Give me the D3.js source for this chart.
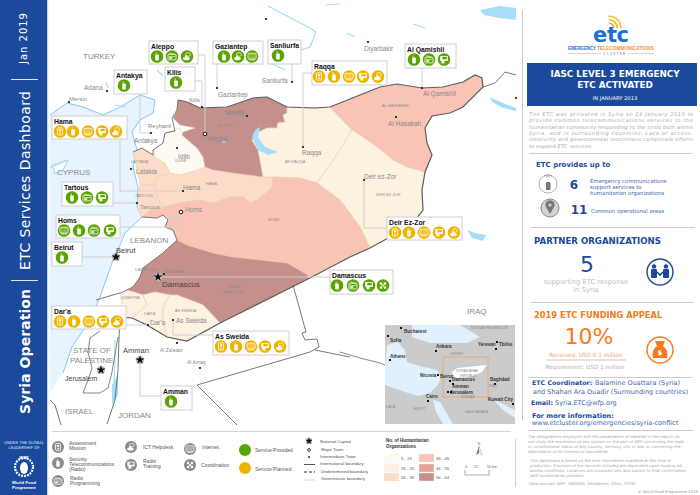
<!DOCTYPE html>
<html><head><meta charset="utf-8">
<script src="https://cdn.jsdelivr.net/npm/d3@7"></script>
<style>html,body{margin:0;padding:0;background:#fff}svg{display:block}text{font-family:"Liberation Sans",Arial,sans-serif}</style>
</head><body><svg id="c" width="700" height="495"></svg>
<script>
const officeNames=["Aleppo","Gaziantep","Sanliurfa","Kilis","Antakya","Raqqa","Al Qamishli","Deir Ez-Zor","Hama","Tartous","Homs","Beirut","Dar'a","As Sweida","Amman","Damascus"];
const officeServices=["RPH","RHI","R","R","R","ARITH","RPT","ARITH","ARITH","RPT","IRPT","R","ARITH","ARITH","R","RPTC"];
const officeStatus=["p","p","p","p","p","s","p","s","s","p","p","p","s","s","p","p"];
const orgBins=["5 - 15","16 - 25","26 - 35","36 - 45","46 - 55","56 - 64"];
const binColors=["#fefaf3","#fdf1df","#fcdcc8","#f9c4b5","#e8a09a","#c58f8c"];
const provides=[["6",["Emergency communications","support services to","humanitarian organizations"]],["11",["Common operational areas"]]];

const boxes=[[149,41,49,23],[213,41,50,23],[268,40,33,24],[165,67,30,24],[114,70,33,24],[312,61,75,24],[405,44,51,24],[387,217,75,23],[52,116,75,23],[62,182,51,24],[56,215,64,23],[52,242,30,24],[52,306,74,23],[213,331,76,24],[161,386,31,24],[330,270,63,24]];
const iconX=[[157,172,187],[224,238,252],[278],[176],[124],[319,334,349,363,378],[414,429,444],[395,409,424,439,454],[60,73,88,102,116],[72,87,102],[64,79,94,110],[62],[60,74,89,103,117],[221,236,251,265,280],[171],[337,353,369,383]];
const leaders=[[[198,55],[205,55],[205,134]],[[202,81],[202,107]],[[217,64],[217,88]],[[292,64],[292,82]],[[140,94],[140,133],[151,133]],[[120,139],[120,191],[183,191]],[[113,203],[137,203]],[[120,227],[181,227],[181,212]],[[82,257],[116,257]],[[312,73],[303,73],[303,147]],[[422,68],[422,88]],[[387,228],[364,228],[364,180]],[[126,325],[148,325]],[[213,335],[173,335],[173,320]],[[140,360],[140,396],[161,396]],[[158,277],[330,277]],[[195,81],[202,81]]];

const sea=[[50,115],[67,103],[83,107],[103,115],[120,107],[140,95],[155,100],[153,113],[140,120],[132,132],[137,150],[133,167],[138,187],[137,207],[142,217],[125,233],[118,250],[113,260],[106,280],[100,297],[90,320],[72,347],[63,373],[50,393]];
const gov={
 hama:[[155,157],[165,163],[170,173],[180,175],[197,170],[205,167],[233,173],[263,177],[273,177],[272,187],[267,192],[257,200],[250,203],[243,197],[230,197],[213,203],[200,200],[180,203],[163,207],[150,210],[140,207],[140,185],[155,185]],
 lat:[[133,152],[142,148],[153,155],[165,158],[165,163],[170,173],[157,177],[155,185],[140,185],[137,170]],
 tar:[[140,185],[155,185],[157,197],[163,207],[150,210],[142,217],[137,207]],
 idl:[[153,150],[163,143],[165,133],[180,128],[182,135],[190,142],[197,148],[203,157],[205,167],[197,170],[180,175],[170,173],[165,163],[155,157]],
 alp:[[178,100],[187,102],[200,108],[227,107],[253,98],[267,97],[287,107],[287,113],[283,115],[285,122],[278,123],[277,128],[267,128],[257,133],[252,140],[258,150],[260,160],[263,177],[233,173],[213,170],[205,167],[203,157],[197,148],[190,142],[182,135],[183,132],[195,128],[180,125],[173,118],[177,110]],
 rqa:[[287,107],[315,108],[330,107],[352,130],[340,150],[317,183],[300,178],[273,177],[263,177],[260,160],[258,150],[252,140],[257,133],[267,128],[277,128],[278,123],[285,122],[283,115],[287,113]],
 has:[[330,107],[360,95],[380,87],[397,84],[422,88],[443,87],[463,82],[475,75],[482,78],[483,87],[463,107],[450,113],[432,116],[425,128],[427,143],[432,155],[425,172],[407,167],[393,160],[377,147],[363,137],[352,130]],
 der:[[352,130],[363,137],[377,147],[393,160],[407,167],[425,172],[422,190],[423,210],[413,223],[390,237],[370,248],[360,227],[340,200],[317,183],[340,150]],
 hom:[[150,210],[163,207],[180,203],[200,200],[213,203],[230,197],[243,197],[250,203],[257,200],[267,192],[272,187],[273,177],[300,178],[317,183],[340,200],[360,227],[370,248],[350,257],[308,279],[308,275],[287,263],[233,257],[213,253],[187,245],[177,240],[173,230],[165,227],[168,220],[163,215],[157,218],[142,217]],
 rur:[[308,279],[308,275],[287,263],[233,257],[213,253],[187,245],[177,240],[163,253],[143,268],[140,277],[133,287],[127,290],[143,295],[155,292],[170,295],[177,295],[190,300],[203,305],[220,323]],
 qun:[[127,290],[143,295],[147,305],[132,318],[120,317],[122,300],[123,292]],
 dar:[[143,295],[155,292],[170,295],[163,307],[163,320],[167,337],[147,325],[132,318],[147,305]],
 swe:[[170,295],[177,295],[190,300],[203,305],[220,323],[187,341],[167,337],[163,320],[163,307]]};
const govFill={hama:2,lat:2,tar:2,idl:0,alp:5,rqa:1,has:3,der:1,hom:3,rur:5,qun:1,dar:1,swe:1};
const intlBorders=[
 [[178,100],[187,102],[200,108],[227,107],[253,98],[267,97],[287,107],[315,108],[330,107],[360,95],[380,87],[397,84],[422,88],[443,87],[463,82],[475,75],[482,78],[483,87],[463,107],[450,113],[432,116],[425,128],[427,143],[432,155],[425,172],[422,190],[423,210],[413,223],[390,237],[370,248],[350,257],[308,279],[220,323],[187,341],[167,337],[147,325],[132,318],[120,317]],
 [[483,87],[495,83],[505,72],[516,75]],
 [[293,285],[306,332],[302,333],[305,340],[317,339],[319,347],[310,352],[197,385],[237,425]],
 [[315,350],[350,357]],
 [[142,217],[157,218],[163,215],[168,220],[165,227],[173,230],[177,240],[163,253],[143,268],[140,277],[133,287],[127,290],[123,292]],
 [[123,292],[96,300]],
 [[120,317],[119,338],[118,370],[115,400],[107,424]],
 [[50,400],[55,405],[61,425]],
 [[133,152],[142,148],[153,155],[153,150],[163,143],[165,133],[175,131],[172,118],[177,110],[178,100]]];
const westBank=[[[100,331],[90,338],[88,352],[92,368],[88,380],[83,393],[100,393],[108,388],[112,372],[118,337]]];
const rivers=[[[268,6],[285,15],[310,28],[316,32],[310,47],[295,52]],[[270,63],[285,70]],[[347,33],[355,37]],[[413,24],[425,28]],[[106,82],[108,88]],[[157,70],[163,76]],[[50,168],[68,160]],[[326,5],[340,4]],[[115,105],[126,107]],[[115,340],[114,400]]];
const lakes=[[[252,137],[255,130],[260,127],[258,137],[265,147],[278,152],[268,155],[258,150]],[[480,10],[500,6],[516,8],[516,20],[500,18],[484,15]],[[490,97],[505,104],[516,108],[516,111],[503,108],[492,102]],[[467,230],[475,233],[486,235],[483,241],[472,238]],[[112,385],[118,375],[118,395],[112,405]],[[223,140],[226,142],[222,143]],[[172,217],[176,216],[173,220]]];
const cyprus=[[55,174],[52,165],[60,163],[68,160],[63,170]];

const labels=[["TURKEY",83,59,8],["Adana",84,90,6.5],["Mersin",69,101,6],["Reyhanli",148,128,6],["Antakya",134,143,6.5],["Kilis",189,102,6],["Gaziantep",218,97,6.5],["Sanliurfa",262,83,6.5],["Manbij",225,115,6.5],["Aleppo",208,141,6.5],["Idlib",178,159,6.5],["Latakia",136,174,6.5],["Hama",183,190,6.5],["Tartous",140,209,6],["Homs",185,212,6.5],["CYPRUS",57,175,8],["LEBANON",130,243,8],["Beirut",116,253,7.5],["Diyarbakir",364,51,6.5],["Raqqa",302,155,6.5],["Deir ez-Zor",364,179,6.5],["Al Qamishli",423,96,6.5],["Al Hasakah",388,126,6.5],["Douma",165,273,6],["Damascus",162,287,8],["Dar'a",150,325,6.5],["As Sweida",176,323,6.5],["STATE OF",73,353,8],["PALESTINE",70,363,8],["Jerusalem",65,381,7],["Amman",123,353,7.5],["Al Za'atari",160,352,5],["Al Azraq",187,364,5],["ISRAEL",65,414,8],["JORDAN",118,418,8],["IRAQ",467,314,8]];
const darkLabels=["Beirut","Damascus","Amman","Jerusalem"];
const govLabels=[["ALEPPO",218,127],["IDLEB",175,162],["LATTAKIA",131,163],["HAMA",206,185],["TARTOUS",135,197],["HOMS",268,221],["AR-RAQQA",285,163],["AL-HASSAKEH",382,107],["DEIR-EZ-ZOR",376,196],["DAMASCUS",135,271],["RURAL",229,288],["DAMASCUS",222,293],["QUNEITRA",120,299],["DAR'A",144,315],["AS-SWEIDA",175,312]];
const towns=[[107,91],[69,102],[151,133],[202,107],[217,88],[292,82],[247,116],[177,148],[131,169],[183,191],[137,203],[303,147],[364,180],[396,117],[422,88],[368,42],[266,19],[164,274],[148,325],[173,320],[177,343],[200,368],[516,98]];
const majors=[[205,134],[181,212]];
const capitals=[[116,257],[158,277],[101,370],[140,360]];

const svg=d3.select("#c");
const BLUE="#1b4a9c",ORANGE="#f47b20",GREEN="#5aa300",YEL="#eeb500";
const line=d3.line(), poly=d3.line().curve(d3.curveLinearClosed);
const G=svg.append("g");
const T=(s,x,y,sz,fill,o={})=>{const t=G.append("text").attr("x",x).attr("y",y).attr("font-size",sz).attr("fill",fill).text(s);
 if(o.a)t.attr("text-anchor",o.a);if(o.w)t.attr("font-weight",o.w);if(o.f)t.style("font-family",o.f);if(o.i)t.attr("font-style","italic");if(o.tl)t.attr("textLength",o.tl).attr("lengthAdjust",o.la||"spacing");if(o.r)t.attr("transform",`rotate(${o.r} ${x} ${y})`);if(o.ls)t.attr("letter-spacing",o.ls);return t};
const VER='"DejaVu Sans",Verdana,sans-serif';

G.append("path").attr("d",poly(sea)).attr("fill","#e7f3fe").attr("stroke","none");
G.append("path").attr("d",line(sea.slice(0,-1))).attr("fill","none").attr("stroke","#6bb8ee").attr("stroke-width",.8);
G.append("path").attr("d",poly(cyprus)).attr("fill","#fff").attr("stroke","#6bb8ee").attr("stroke-width",.6);
Object.keys(gov).forEach(k=>G.append("path").attr("d",poly(gov[k])).attr("fill",binColors[govFill[k]]).attr("stroke","#e6cfae").attr("stroke-width",.6));
rivers.forEach(r=>G.append("path").attr("d",line(r)).attr("fill","none").attr("stroke","#a6def9").attr("stroke-width",1.2));
lakes.forEach(r=>G.append("path").attr("d",poly(r)).attr("fill","#a6def9"));
intlBorders.forEach((b,i)=>G.append("path").attr("d",line(b)).attr("fill","none").attr("stroke",i<1||i==4||i==8?"#5f5f5f":"#555").attr("stroke-width",i<1?1.2:.8));
westBank.forEach(b=>G.append("path").attr("d",line(b)).attr("fill","none").attr("stroke","#666").attr("stroke-width",.8));
G.append("path").attr("d",line([[340,352],[360,358],[380,363],[385,365]])).attr("fill","none").attr("stroke","#555").attr("stroke-width",.7);
leaders.forEach(l=>G.append("path").attr("d",line(l)).attr("fill","none").attr("stroke","#cfcfcf").attr("stroke-width",1));
labels.forEach(l=>T(l[0],l[1],l[2],l[3],darkLabels.includes(l[0])?"#444":"#888"));
govLabels.forEach(l=>T(l[0],l[1],l[2],3.8,"#8f8f8f"));
towns.forEach(p=>G.append("circle").attr("cx",p[0]).attr("cy",p[1]).attr("r",1.1).attr("fill","#111"));
majors.forEach(p=>G.append("circle").attr("cx",p[0]).attr("cy",p[1]).attr("r",1.8).attr("fill","#fff").attr("stroke","#111").attr("stroke-width",1));
const star=d3.symbol().type(d3.symbolStar);
const capital=(x,y,r=4)=>{G.append("circle").attr("cx",x).attr("cy",y).attr("r",r).attr("fill","#bbb");G.append("path").attr("transform",`translate(${x},${y})`).attr("d",star.size(r*r*1.6)()).attr("fill","#111")};
capitals.forEach(p=>capital(p[0],p[1]));

function glyph(g,c,col){
 const W="#fff",s=g;
 if(c==="A"){s.append("rect").attr("x",-2.6).attr("y",-3.6).attr("width",5.2).attr("height",7.2).attr("rx",.6).attr("fill","none").attr("stroke",W).attr("stroke-width",.8);s.append("rect").attr("x",-1.2).attr("y",-2.2).attr("width",2.4).attr("height",2).attr("fill",W);s.append("circle").attr("cy",1.6).attr("r",.9).attr("fill",W);}
 if(c==="R"){s.append("rect").attr("x",-1.8).attr("y",-2).attr("width",3.6).attr("height",6).attr("rx",.7).attr("fill",W);s.append("rect").attr("x",-1.2).attr("y",-4.2).attr("width",.7).attr("height",2.4).attr("fill",W);}
 if(c==="I"){s.append("rect").attr("x",-4).attr("y",-3.2).attr("width",8).attr("height",5.6).attr("rx",.6).attr("fill","none").attr("stroke",W).attr("stroke-width",.8);d3.range(3).forEach(i=>s.append("line").attr("x1",-2.6).attr("x2",2.6).attr("y1",-1.8+i*1.3).attr("y2",-1.8+i*1.3).attr("stroke",W).attr("stroke-width",.6).attr("stroke-dasharray",".8 .4"));s.append("rect").attr("x",-3).attr("y",3).attr("width",6).attr("height",.8).attr("fill",W);}
 if(c==="T"){s.append("rect").attr("x",-3.8).attr("y",-3.4).attr("width",7.6).attr("height",4.8).attr("fill",W);s.append("rect").attr("x",-2.6).attr("y",-.5).attr("width",3).attr("height",4.4).attr("fill",W);s.append("rect").attr("x",-1.6).attr("y",-2.6).attr("width",4.4).attr("height",2.4).attr("fill",col);}
 if(c==="H"){s.append("ellipse").attr("cx",1).attr("cy",-2).attr("rx",2.6).attr("ry",1.8).attr("fill","none").attr("stroke",W).attr("stroke-width",.7);s.append("ellipse").attr("cx",-.6).attr("cy",2).attr("rx",3.4).attr("ry",1.8).attr("fill",W);s.append("rect").attr("x",-1.8).attr("y",-1).attr("width",2).attr("height",2).attr("fill",W);}
 if(c==="P"){s.append("rect").attr("x",-4).attr("y",-2.2).attr("width",8).attr("height",5.6).attr("rx",.7).attr("fill","none").attr("stroke",W).attr("stroke-width",.8);s.append("line").attr("x1",-3).attr("x2",3).attr("y1",-3.6).attr("y2",-2.2).attr("stroke",W).attr("stroke-width",.6);s.append("line").attr("x1",-3).attr("x2",3).attr("y1",0).attr("y2",0).attr("stroke",W).attr("stroke-width",.6);s.append("rect").attr("x",-2.8).attr("y",.8).attr("width",3).attr("height",1.5).attr("fill",W);}
 if(c==="C"){[[-2,-2],[2,-2],[-2,2],[2,2]].forEach(p=>s.append("circle").attr("cx",p[0]).attr("cy",p[1]).attr("r",1.3).attr("fill",W));s.append("path").attr("d",line([[-2.6,-2.6],[2.6,2.6]])).attr("stroke",W).attr("stroke-width",.9);s.append("path").attr("d",line([[2.6,-2.6],[-2.6,2.6]])).attr("stroke",W).attr("stroke-width",.9);}
}
function icon(x,y,c,col,r=6.3){const g=G.append("g").attr("transform",`translate(${x},${y}) scale(${r/6.3})`);g.append("circle").attr("r",6.3).attr("fill",col);glyph(g,c,col);}

officeNames.forEach((n,i)=>{const b=boxes[i],col=officeStatus[i]==="p"?GREEN:YEL;
 G.append("rect").attr("x",b[0]).attr("y",b[1]).attr("width",b[2]).attr("height",b[3]).attr("fill","#fff").attr("stroke","#cfcfcf").attr("stroke-width",1);
 T(n,b[0]+2,b[1]+7.5,6.8,"#111",{w:"bold"});
 officeServices[i].split("").forEach((c,j)=>icon(iconX[i][j],b[1]+15.5,c,col));
});

G.append("rect").attr("width",47).attr("height",495).attr("fill",BLUE);
G.append("rect").attr("x",47).attr("width",1.2).attr("height",495).attr("fill","#bcd6f5");
T("Jan 2019",27,64,10,"#fff",{f:VER,r:-90,tl:51});
G.append("rect").attr("x",11).attr("y",79).attr("width",27).attr("height",1).attr("fill","#dfe6f3");
T("ETC Services Dashboard",30,270,14,"#fff",{f:VER,r:-90,tl:179});
G.append("rect").attr("x",11).attr("y",280).attr("width",27).attr("height",1).attr("fill","#dfe6f3");
T("Syria Operation",30,414,14,"#fff",{f:VER,w:"bold",r:-90,tl:125});
T("UNDER THE GLOBAL",24,444,3.9,"#dfe6f3",{a:"middle",f:VER});
T("LEADERSHIP OF",24,449,3.9,"#dfe6f3",{a:"middle",f:VER});
G.append("circle").attr("cx",24).attr("cy",467).attr("r",9).attr("fill","none").attr("stroke","#fff").attr("stroke-width",2.2).attr("stroke-dasharray","2 1");
G.append("ellipse").attr("cx",24).attr("cy",468).attr("rx",4).attr("ry",6).attr("fill","#fff");
T("WFP",24,459,4.2,"#fff",{a:"middle",w:"bold"});
T("World Food",24,484,4.3,"#fff",{a:"middle",w:"bold"});
T("Programme",24,489,4.3,"#fff",{a:"middle",w:"bold"});

// minimap
G.append("rect").attr("x",385).attr("y",325).attr("width",130).attr("height",99).attr("fill","#cbcbcb");
const mmSea=[[[385,365],[387,345],[398,342],[405,350],[407,362],[420,366],[437,370],[441,376],[438,385],[430,393],[418,396],[405,392],[385,385]],[[412,325],[460,325],[480,337],[467,343],[430,343],[412,337]],[[433,400],[440,402],[453,424],[443,424],[436,412]],[[492,398],[505,405],[515,410],[515,418],[503,410]]];
mmSea.forEach(p=>G.append("path").attr("d",poly(p)).attr("fill","#e1f0fd"));
G.append("path").attr("d",poly([[452,372],[457,368],[487,365],[482,372],[470,377],[453,378]])).attr("fill","#fff");
G.append("rect").attr("x",443).attr("y",357).attr("width",45).attr("height",40).attr("fill","none").attr("stroke","#e8a060").attr("stroke-width",.8);
[["Bucharest",404,333],["Sofia",390,342],["Athens",390,358],["Ankara",436,348],["Yerevan",478,346],["Tbilisi",499,346],["Nicosia",420,377],["Beirut",440,378],["Damascus",452,381],["Amman",452,388],["Jerusalem",450,394],["Cairo",426,398],["Baghdad",490,381],["Kuwait City",488,401]].forEach(d=>T(d[0],d[1],d[2],4.6,"#333",{w:"bold"}));
[[401,328],[388,336],[390,360],[436,351],[497,342],[496,349],[438,375],[450,381],[453,384],[451,392],[448,392],[428,401],[495,384],[513,404]].forEach(p=>G.append("rect").attr("x",p[0]-1).attr("y",p[1]-1).attr("width",2).attr("height",2).attr("fill","#111"));
[["TURKEY",450,355],["SYRIAN ARAB",456,372],["REPUBLIC",460,377],["EGYPT",414,410],["LIBYA",386,408],["SAUDI ARABIA",465,413],["RUSSIAN FEDERATION",471,329],["IRAQ",489,387],["JORDAN",461,398]].forEach(d=>T(d[0],d[1],d[2],3.3,"#888"));

G.append("rect").attr("x",522).attr("y",10).attr("width",1).attr("height",410).attr("fill","#c8c8c8");
G.append("rect").attr("x",52).attr("y",431).attr("width",459).attr("height",1).attr("fill","#d5d5d5");
G.append("rect").attr("x",515).attr("y",439).attr("width",1).attr("height",48).attr("fill","#d0d0d0");

// ETC logo
const arc=d3.arc();
[[4,"#f7a823"],[7.5,"#f7b52b"],[11,"#f6c02e"]].forEach(a=>G.append("path").attr("transform","translate(609,28)").attr("d",arc({innerRadius:a[0],outerRadius:a[0]+1.6,startAngle:-.05,endAngle:1.6})).attr("fill",a[1]));
T("etc",611,41.5,21,"#1b6fd9",{a:"middle",w:"bold",f:VER,tl:36});
T("EMERGENCY",568,49.5,4.6,"#2a6fd0",{w:"bold",tl:28,la:"spacingAndGlyphs"});
T("TELECOMMUNICATIONS",597,49.5,4.6,"#f4913c",{w:"bold",tl:57,la:"spacingAndGlyphs"});
T("CLUSTER",615,55,2.8,"#666",{a:"middle",ls:1.4});
G.append("rect").attr("x",568).attr("y",53).attr("width",33).attr("height",.6).attr("fill","#bbb");
G.append("rect").attr("x",628).attr("y",53).attr("width",26).attr("height",.6).attr("fill","#bbb");

G.append("rect").attr("x",527).attr("y",63).attr("width",170).attr("height",43).attr("fill",BLUE);
T("IASC LEVEL 3 EMERGENCY",615,77,8.8,"#fff",{a:"middle",w:"bold",f:VER});
T("ETC ACTIVATED",615,88,8.8,"#fff",{a:"middle",w:"bold",f:VER});
T("IN JANUARY 2013",615,100,5.2,"#fff",{a:"middle",f:VER});
const para=[["The ETC was activated in Syria on 14 January 2013 to",164],["provide common telecommunications services to the",164],["humanitarian community responding to the crisis both within",164],["Syria, and in surrounding countries. Lack of access,",164],["insecurity and governmental restrictions complicate efforts",164],["to expand ETC services.",64]];
[115.5,122,128.5,135,141,148].forEach((y,i)=>T(para[i][0],529,y,5,"#a8a8a8",{i:1,f:VER,tl:para[i][1]}));
const hr=(x,y,w,c="#cccccc",h=1)=>G.append("rect").attr("x",x).attr("y",y).attr("width",w).attr("height",h).attr("fill",c);
hr(529,153,163);
T("ETC provides up to",536,167,7,BLUE,{w:"bold",f:VER});
G.append("circle").attr("cx",548).attr("cy",184).attr("r",9).attr("fill","#fff").attr("stroke","#999").attr("stroke-width",.8);
G.append("rect").attr("x",546).attr("y",182).attr("width",4.5).attr("height",8).attr("rx",.7).attr("fill","#777");
[3,5].forEach(r=>G.append("path").attr("transform","translate(548,180)").attr("d",arc({innerRadius:r,outerRadius:r+.6,startAngle:-.8,endAngle:.8})).attr("fill","#888"));
T(provides[0][0],574,189,12,BLUE,{a:"middle",w:"bold",f:VER});
provides[0][1].forEach((s,i)=>T(s,590,183+i*6.2,5.4,"#3e68ae",{f:VER}));
G.append("circle").attr("cx",550).attr("cy",208).attr("r",9).attr("fill","#d3d3d3").attr("stroke","#888").attr("stroke-width",1);
G.append("path").attr("d","M550 214 L546 207 A4.6 4.6 0 1 1 554 207 Z").attr("fill","#777");
G.append("circle").attr("cx",550).attr("cy",205).attr("r",1.6).attr("fill","#d3d3d3");
T(provides[1][0],579,214,12,BLUE,{a:"middle",w:"bold",f:VER});
T(provides[1][1][0],591,212.5,5.4,"#3e68ae",{f:VER});
hr(531,227,164);
T("PARTNER ORGANIZATIONS",534,244,8.6,BLUE,{w:"bold",f:VER});
T("5",587,272,22,BLUE,{a:"middle",f:VER});
T("supporting ETC response",586,284,6.8,"#bdbdbd",{a:"middle",f:VER});
T("in Syria",586,291.5,6.8,"#bdbdbd",{a:"middle",f:VER});
G.append("circle").attr("cx",660).attr("cy",272).attr("r",13).attr("fill","#fff").attr("stroke",BLUE).attr("stroke-width",1.4);
[[654,268],[666,268]].forEach(p=>{G.append("circle").attr("cx",p[0]).attr("cy",p[1]-1.5).attr("r",2.2).attr("fill",BLUE);G.append("rect").attr("x",p[0]-3).attr("y",p[1]+1).attr("width",6).attr("height",9).attr("rx",1).attr("fill",BLUE)});
G.append("path").attr("d",line([[657,272],[660,275],[663,272]])).attr("fill","none").attr("stroke",BLUE).attr("stroke-width",1.6);
hr(531,302,163);
T("2019 ETC FUNDING APPEAL",534,318,8.3,ORANGE,{w:"bold",f:VER});
T("10%",589,344,22,ORANGE,{a:"middle",f:VER});
T("Received: USD 0.1 million",586,356.5,5.7,"#f8a672",{a:"middle",f:VER});
hr(547,359.5,79,"#c8c8c8");
T("Requirement: USD 1 million",585,368.5,5.7,"#b5b5b5",{a:"middle",f:VER});
G.append("circle").attr("cx",660).attr("cy",350).attr("r",13).attr("fill","#fff").attr("stroke",ORANGE).attr("stroke-width",1.4);
G.append("path").attr("d","M653 358 Q651 350 657 346 L655 341 L665 341 L663 346 Q669 350 667 358 Z").attr("fill",ORANGE);
T("$",660,355,7,"#fff",{a:"middle",w:"bold",f:VER});
hr(528,377,164);
T("ETC Coordinator:",532,385,6.3,BLUE,{w:"bold",f:VER});
T("Balamine Ouattara (Syria)",595,385,6.5,"#3e68ae",{f:VER});
T("and Shahan Ara Quadir (Surrounding countries)",533,393.5,6.5,"#3e68ae",{f:VER});
T("Email:",531,405,6.3,BLUE,{w:"bold",f:VER});
T("Syria.ETC@wfp.org",555,405,6.5,"#3e68ae",{f:VER});
T("For more information:",532,418,6.6,BLUE,{w:"bold",f:VER});
T("www.etcluster.org/emergencies/syria-conflict",532,424.5,6.5,"#3e68ae",{f:VER});
hr(528,430,165);
[["The designations employed and the presentation of material in the map(s) do",528,438],["not imply the expression of any opinion on the part of WFP concerning the legal",528,443],["or constitutional status of any country, territory, city or sea, or concerning the",528,448],["delimitation of its frontiers or boundaries.",528,453],["This dashboard is based on the best information available at the time of",530,462],["production. Provision of the services included are dependent upon funding ad",530,467],["access conditions. Locations are proposed only and subject to final confirmation",530,472],["with humanitarian partners.",530,477],["Data sources:  WFP, UNGIWG, GeoNames, GAUL, OCHA",529,485]].forEach(d=>T(d[0],d[1],d[2],3.9,"#a6a6a6",{f:VER}));
T("© World Food Programme 2019",698,493,3.8,"#999",{a:"end",f:VER});

const GREY="#8c8c8c";
[[58,447,"A",["Assessment","Mission"],69,445],[58,463,"R",["Security","Telecommunications","(Radio)"],69,461],[58,481,"P",["Radio","Programming"],70,480],[131,447,"H",["ICT Helpdesk"],143,449],[131,465,"T",["Radio","Training"],143,463],[190,449,"I",["Internet"],202,449],[190,465,"C",["Coordination"],201,467]].forEach(d=>{
 icon(d[0],d[1],d[2],GREY,6);
 d[3].forEach((s,i)=>T(s,d[4],d[5]+i*4.8,5,"#555"));
});
G.append("circle").attr("cx",245).attr("cy",450).attr("r",6).attr("fill",GREEN);
T("Service Provided",255,452,5,"#555");
G.append("circle").attr("cx",245).attr("cy",468).attr("r",6).attr("fill",YEL);
T("Service Planned",255,471,5,"#555");
capital(309,441,3.2);
G.append("circle").attr("cx",309).attr("cy",450).attr("r",1.4).attr("fill","#fff").attr("stroke","#111").attr("stroke-width",.8);
G.append("circle").attr("cx",309).attr("cy",457).attr("r",.9).attr("fill","#111");
G.append("path").attr("d",line([[304,464.5],[315,464.5]])).attr("stroke","#555").attr("stroke-width",1);
G.append("path").attr("d",line([[304,472],[315,472]])).attr("stroke","#222").attr("stroke-width",1).attr("stroke-dasharray","3 2");
G.append("path").attr("d",line([[304,480],[315,480]])).attr("stroke","#e6cfae").attr("stroke-width",.8);
["National Capital","Major Town","Intermediate Town","International boundary","Undetermined boundary","Governorate boundary"].forEach((s,i)=>T(s,[320,321,320,320,321,321][i],[443,451,458,465,473,480][i],4.4,"#555"));
T("No. of Humanitarian",386,442,4.5,"#333",{w:"bold"});
T("Organizations",386,448,4.5,"#333",{w:"bold"});
orgBins.forEach((s,i)=>{const x=i<3?384:419,y=[454,464,473][i%3];
 G.append("rect").attr("x",x).attr("y",y).attr("width",15).attr("height",8).attr("fill",binColors[i]).attr("stroke","#eee").attr("stroke-width",.4);
 T(s,x+17,y+6,4.2,"#555");});
T("N",479,445,3.4,"#666",{a:"middle"});
G.append("path").attr("d","M479 446 L476 455 L479 453 Z").attr("fill","#777");
G.append("path").attr("d","M479 446 L482 455 L479 453 Z").attr("fill","#fff").attr("stroke","#777").attr("stroke-width",.3);
["0","25","50 km"].forEach((s,i)=>T(s,[465,474,487][i],468,3.6,"#666"));
G.append("path").attr("d",line([[465,470],[465,475],[489,475],[489,470]])).attr("fill","none").attr("stroke","#777").attr("stroke-width",.6);
</script></body></html>
